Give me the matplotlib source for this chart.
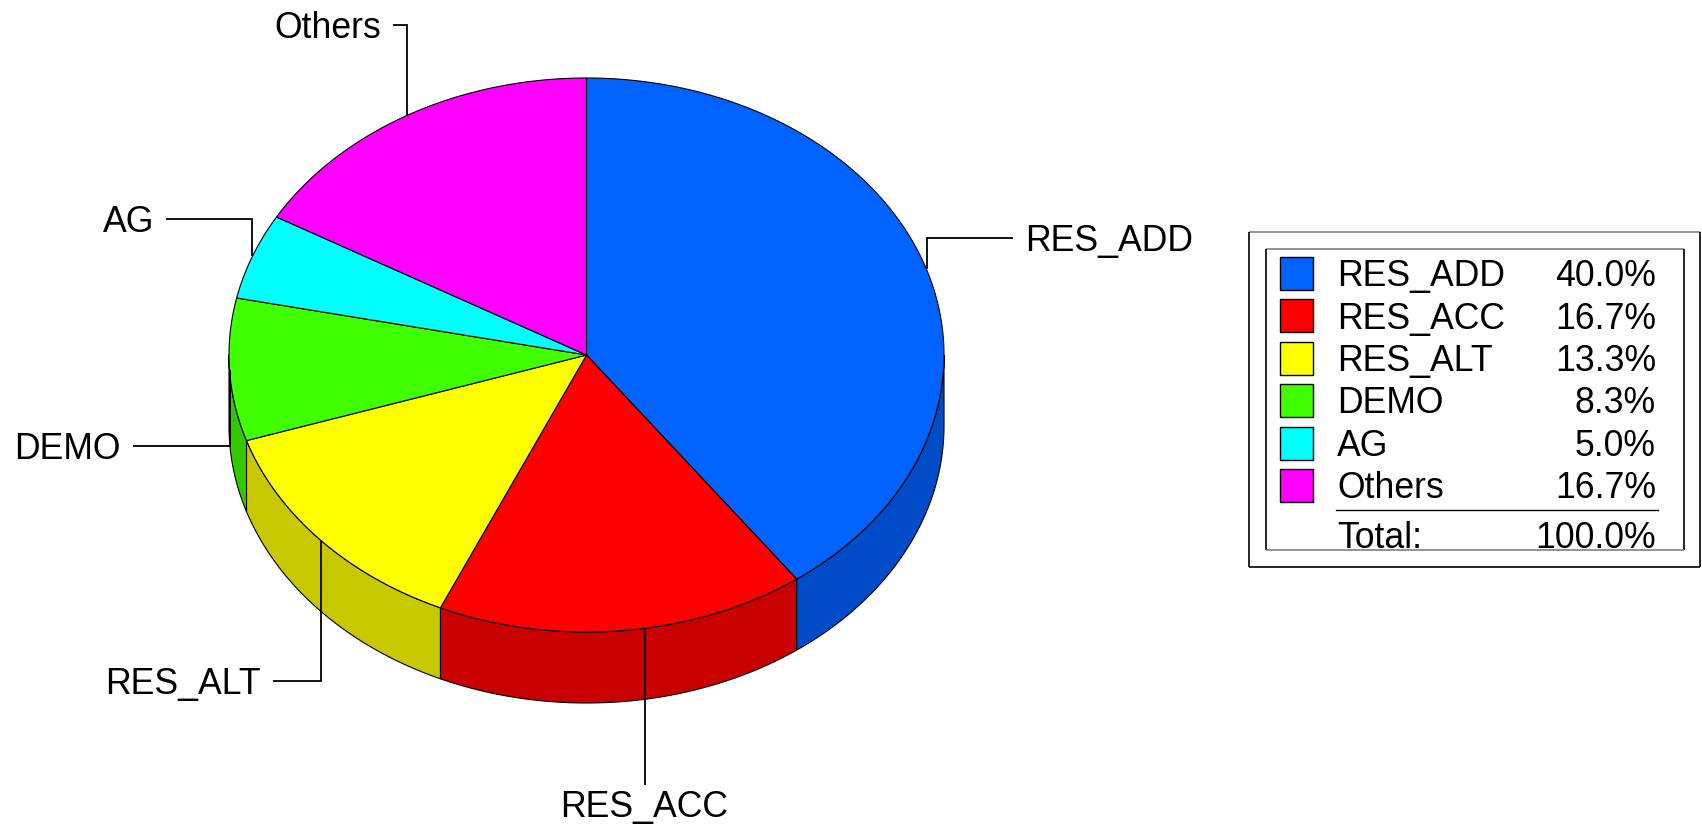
import numpy as np
import matplotlib
matplotlib.use("Agg")
import matplotlib.pyplot as plt
from matplotlib.patches import Polygon, Rectangle

# ---------------- data ----------------
categories = ["RES_ADD", "RES_ACC", "RES_ALT", "DEMO", "AG", "Others"]
shares = [40.0, 16.7, 13.3, 8.3, 5.0, 16.7]
top_colors = ["#0062FF", "#FF0000", "#FFFF00", "#40FF00", "#00FFFF", "#FF00FF"]
side_colors = ["#004CC8", "#C80000", "#C8C800", "#32C800", "#00C8C8", "#C800C8"]
total_label = "Total:"

# ---------------- layout (pixels) ----------------
W, H = 1702, 824
cx, cy, rx, ry, depth = 586.5, 355.0, 357.5, 277.0, 71.0
start_angle = 90.0
FS_PX = 35.6
FS = FS_PX * 72 / 100.0
CAP = 0.358 * FS_PX  # half cap height offset for baseline placement

# leader layout: angle shift, elbow y, end x, text anchor
leaders = {
    "RES_ADD": dict(shift=0.0, ey=238, ex=1013, side="right"),
    "RES_ACC": dict(shift=3.4, ey=785, ex=None, side="below"),
    "RES_ALT": dict(shift=0.0, ey=681, ex=273, side="left"),
    "DEMO": dict(shift=0.0, ey=446, ex=133, side="left"),
    "AG": dict(shift=0.0, ey=219, ex=166, side="left"),
    "Others": dict(shift=0.0, ey=25, ex=393, side="left"),
}

plt.rcParams["font.family"] = ["Liberation Sans", "DejaVu Sans"]
fig = plt.figure(figsize=(W / 100, H / 100), dpi=100)
ax = fig.add_axes([0, 0, 1, 1])
ax.set_xlim(0, W)
ax.set_ylim(H, 0)
ax.axis("off")


def pt(a, dy=0.0):
    r = np.radians(a)
    return cx + rx * np.cos(r), cy - ry * np.sin(r) + dy


def arc(a0, a1, dy=0.0, n=None):
    n = n or max(int(abs(a1 - a0) * 2) + 2, 3)
    angs = np.linspace(a0, a1, n)
    return [pt(a, dy) for a in angs]


fracs = np.array(shares) / np.sum(shares)
cum = np.concatenate([[0], np.cumsum(fracs)])
starts = start_angle - cum[:-1] * 360
ends = start_angle - cum[1:] * 360

# side faces (front half: angles between -180 and 0)
for i in range(len(categories)):
    lo, hi = ends[i], starts[i]
    for off in (-360, 0, 360):
        a0 = max(lo + off, -180)
        a1 = min(hi + off, 0)
        if a1 > a0:
            pts = arc(a0, a1) + arc(a1, a0, dy=depth)
            ax.add_patch(Polygon(pts, closed=True, facecolor=side_colors[i],
                                 edgecolor="black", linewidth=0.8, zorder=1))

# top faces
for i in range(len(categories)):
    pts = [(cx, cy)] + arc(starts[i], ends[i])
    ax.add_patch(Polygon(pts, closed=True, facecolor=top_colors[i],
                         edgecolor="black", linewidth=0.8, zorder=2))

# leader lines and labels
for i, name in enumerate(categories):
    L = leaders[name]
    mid = (starts[i] + ends[i]) / 2 + L["shift"]
    x0, y0 = pt(mid)
    if L["side"] == "below":
        ax.plot([x0, x0], [y0, L["ey"]], color="black", lw=1.3, zorder=3,
                solid_capstyle="butt")
        ax.text(x0, L["ey"] + 7 + 2 * CAP, name, fontsize=FS, ha="center",
                va="baseline", zorder=4)
    else:
        ax.plot([x0, x0, L["ex"]], [y0, L["ey"], L["ey"]], color="black",
                lw=1.3, zorder=3, solid_capstyle="butt", solid_joinstyle="miter")
        if L["side"] == "right":
            ax.text(L["ex"] + 12, L["ey"] + CAP, name, fontsize=FS, ha="left",
                    va="baseline", zorder=4)
        else:
            ax.text(L["ex"] - 12, L["ey"] + CAP, name, fontsize=FS, ha="right",
                    va="baseline", zorder=4)

# legend
def box(x0, y0, x1, y1, top_c, left_c, right_c, bottom_c, lw=1.2):
    ax.plot([x0, x1], [y0, y0], color=top_c, lw=lw, solid_capstyle="butt")
    ax.plot([x0, x0], [y0, y1], color=left_c, lw=lw, solid_capstyle="butt")
    ax.plot([x1, x1], [y0, y1], color=right_c, lw=lw, solid_capstyle="butt")
    ax.plot([x0, x1], [y1, y1], color=bottom_c, lw=lw, solid_capstyle="butt")

box(1249, 232, 1700, 567, "#808080", "black", "black", "black")
box(1266, 249, 1684, 550, "#808080", "black", "black", "#808080")

row0, row_h = 273.5, 42.4
for i, name in enumerate(categories):
    yc = row0 + i * row_h
    ax.add_patch(Rectangle((1280, yc - 16.5), 33, 33, facecolor=top_colors[i],
                           edgecolor="black", linewidth=1.0, zorder=3))
    ax.text(1337, yc + CAP, name, fontsize=FS, ha="left", va="baseline")
    ax.text(1656, yc + CAP, f"{shares[i]:.1f}%", fontsize=FS, ha="right",
            va="baseline")

ax.plot([1336, 1658], [510, 510], color="black", lw=1.0)
ax.text(1337, 535 + CAP, total_label, fontsize=FS, ha="left", va="baseline")
ax.text(1656, 535 + CAP, f"{np.sum(shares):.1f}%", fontsize=FS, ha="right",
        va="baseline")

fig.savefig("out.png", dpi=100, facecolor="white")
